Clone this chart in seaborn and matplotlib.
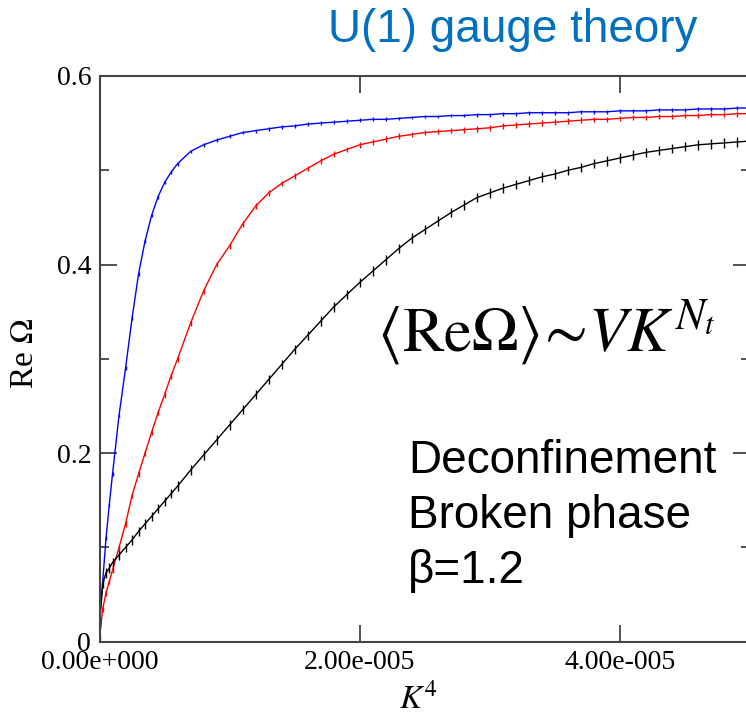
import numpy as np
import pandas as pd
import seaborn as sns
import matplotlib.pyplot as plt
from matplotlib.ticker import FixedLocator

# K^4 values, in units of 1e-6
k4 = [0, 0.25, 0.5, 0.75, 1, 1.5, 2, 2.5, 3, 3.5, 4, 4.5, 5, 5.5, 6,
      7, 8, 9, 10, 11, 12, 13, 14, 15, 16, 17, 18, 19, 20, 21, 22, 23, 24,
      25, 26, 27, 28, 29, 30, 31, 32, 33, 34, 35, 36, 37, 38, 39, 40, 41,
      42, 43, 44, 45, 46, 47, 48, 49, 50]

blue = [0.02, 0.065, 0.11, 0.145, 0.178, 0.24, 0.29, 0.343, 0.39, 0.425,
        0.452, 0.472, 0.487, 0.498, 0.507,
        0.520, 0.527, 0.532, 0.536, 0.540, 0.542, 0.544, 0.546, 0.547, 0.549,
        0.550, 0.551, 0.552, 0.553, 0.554, 0.554, 0.555, 0.556, 0.557, 0.557,
        0.558, 0.558, 0.559, 0.559, 0.560, 0.560, 0.561, 0.561, 0.561, 0.561,
        0.562, 0.562, 0.562, 0.563, 0.563, 0.563, 0.564, 0.564, 0.564, 0.565,
        0.565, 0.565, 0.566, 0.566]

red = [0.005, 0.035, 0.052, 0.064, 0.076, 0.100, 0.125, 0.155, 0.178, 0.200,
       0.222, 0.243, 0.262, 0.282, 0.300,
       0.338, 0.372, 0.400, 0.420, 0.443, 0.462, 0.476, 0.486, 0.494, 0.502,
       0.510, 0.517, 0.522, 0.527, 0.530, 0.533, 0.536, 0.538, 0.540, 0.541,
       0.542, 0.543, 0.544, 0.545, 0.547, 0.548, 0.549, 0.550, 0.551, 0.552,
       0.553, 0.554, 0.554, 0.555, 0.556, 0.556, 0.557, 0.557, 0.558, 0.558,
       0.559, 0.559, 0.560, 0.560]

black = [0.02, 0.062, 0.073, 0.078, 0.084, 0.092, 0.100, 0.108, 0.117, 0.125,
         0.133, 0.141, 0.149, 0.157, 0.165,
         0.182, 0.198, 0.214, 0.230, 0.246, 0.262, 0.278, 0.294, 0.310, 0.325,
         0.340, 0.355, 0.368, 0.381, 0.393, 0.405, 0.417, 0.428, 0.437, 0.446,
         0.455, 0.463, 0.471, 0.476, 0.481, 0.485, 0.489, 0.493, 0.496, 0.500,
         0.503, 0.507, 0.510, 0.513, 0.516, 0.519, 0.521, 0.523, 0.525, 0.527,
         0.528, 0.529, 0.530, 0.531]

err_blue, err_red, err_black = 0.002, 0.003, 0.005

x_ticks = [0, 2e-5, 4e-5]
x_tick_labels = ["0.00e+000", "2.00e-005", "4.00e-005"]
y_ticks = [0, 0.2, 0.4, 0.6]
y_tick_labels = ["0", "0.2", "0.4", "0.6"]
y_minor = [0.1, 0.3, 0.5]

sns.set_theme(style="ticks")
plt.rcParams["font.family"] = ["Liberation Serif", "DejaVu Serif"]
plt.rcParams["mathtext.fontset"] = "stix"
plt.rcParams["text.color"] = "black"
plt.rcParams["axes.labelcolor"] = "black"

x = np.array(k4) * 1e-6
df = pd.concat([
    pd.DataFrame({"k4": x, "re": blue, "err": err_blue, "run": "blue"}),
    pd.DataFrame({"k4": x, "re": red, "err": err_red, "run": "red"}),
    pd.DataFrame({"k4": x, "re": black, "err": err_black, "run": "black"}),
])
colors = {"blue": "#0000ff", "red": "#ff0000", "black": "#000000"}

fig = plt.figure(figsize=(7.46, 7.27), dpi=100)
ax = fig.add_axes([0.1334, 0.1173, 0.872, 0.7782])

sns.lineplot(data=df, x="k4", y="re", hue="run", palette=colors,
             linewidth=1.0, legend=False, errorbar=None, ax=ax)
for name, g in df.groupby("run"):
    ax.errorbar(g["k4"], g["re"], yerr=g["err"], fmt="none",
                ecolor=colors[name], elinewidth=1.0, capsize=0)

ax.set_xlim(0, 5e-5)
ax.set_ylim(0, 0.6)
ax.set_xticks(x_ticks, x_tick_labels)
ax.set_yticks(y_ticks, y_tick_labels)
ax.yaxis.set_minor_locator(FixedLocator(y_minor))
ax.tick_params(which="both", direction="in", top=True, right=True,
               color="#333333", width=1.2, labelsize=20, labelcolor="black")
ax.tick_params(which="major", length=12)
ax.tick_params(which="minor", length=6.5)
ax.tick_params(axis="y", pad=6)
ax.tick_params(axis="x", pad=6)
for s in ax.spines.values():
    s.set_color("#444444")
    s.set_linewidth(1.5)

ax.set_xlabel(r"$K^4$", fontsize=24)
ax.xaxis.set_label_coords(0.49, -0.072)
ax.set_ylabel(r"Re $\Omega$", fontsize=24)
ax.yaxis.set_label_coords(-0.092, 0.51)

# slide annotations
sans = ["Liberation Sans", "DejaVu Sans"]
fig.text(697 / 746, 1 - 42 / 727, "U(1) gauge theory", color="#0070c0",
         fontsize=33, family=sans, ha="right", va="baseline")
fig.text(377 / 746, 1 - 352 / 727,
         r"$\langle \mathrm{Re}\Omega\rangle\!\sim\!VK^{N_t}$",
         fontsize=45, ha="left", va="baseline")
for i, line in enumerate(["Deconfinement", "Broken phase", "β=1.2"]):
    fig.text(408 / 746, 1 - (473 + 55 * i) / 727, line, fontsize=33,
             color="black", family=sans, ha="left", va="baseline")

fig.savefig("out.png", dpi=100)
